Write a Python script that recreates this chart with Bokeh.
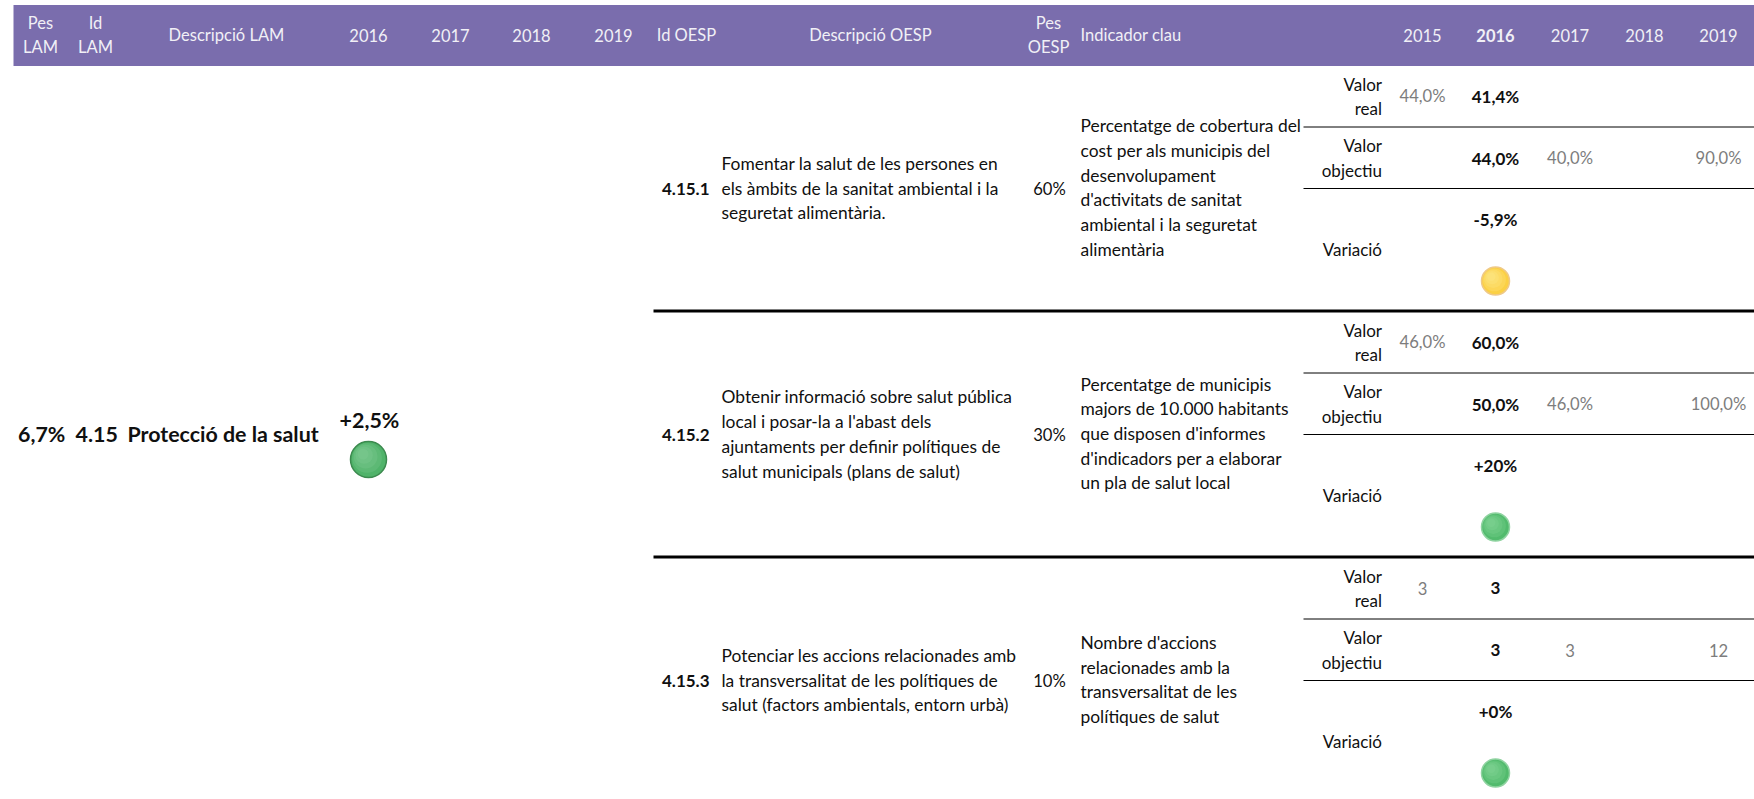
from bokeh.plotting import figure
from bokeh.models import Range1d
from bokeh.core.properties import value
from bokeh.embed import file_html
from bokeh.resources import INLINE

# ---------- data ----------
lam_headers = [["Pes", "LAM"], ["Id", "LAM"], ["Descripció LAM"], ["2016"], ["2017"], ["2018"], ["2019"],
               ["Id OESP"], ["Descripció OESP"], ["Pes", "OESP"]]
indicator_header = "Indicador clau"
indicator_years = ["2015", "2016", "2017", "2018", "2019"]
lam_weight = "6,7%"
lam_id = "4.15"
lam_name = "Protecció de la salut"
lam_2016 = "+2,5%"
lam_status = "green"
oesp_ids = ["4.15.1", "4.15.2", "4.15.3"]
oesp_desc = [
    ["Fomentar la salut de les persones en", "els àmbits de la sanitat ambiental i la", "seguretat alimentària."],
    ["Obtenir informació sobre salut pública", "local i posar-la a l'abast dels",
     "ajuntaments per definir polítiques de", "salut municipals (plans de salut)"],
    ["Potenciar les accions relacionades amb", "la transversalitat de les polítiques de",
     "salut (factors ambientals, entorn urbà)"],
]
oesp_weights = ["60%", "30%", "10%"]
indicators = [
    ["Percentatge de cobertura del", "cost per als municipis del", "desenvolupament",
     "d'activitats de sanitat", "ambiental i la seguretat", "alimentària"],
    ["Percentatge de municipis", "majors de 10.000 habitants", "que disposen d'informes",
     "d'indicadors per a elaborar", "un pla de salut local"],
    ["Nombre d'accions", "relacionades amb la", "transversalitat de les", "polítiques de salut"],
]
real_2015 = ["44,0%", "46,0%", "3"]
real_2016 = ["41,4%", "60,0%", "3"]
target_2016 = ["44,0%", "50,0%", "3"]
target_2017 = ["40,0%", "46,0%", "3"]
target_2019 = ["90,0%", "100,0%", "12"]
variation_2016 = ["-5,9%", "+20%", "+0%"]
variation_status = ["yellow", "green", "green"]

# ---------- layout and style ----------
W, H = 1754, 799
FONT = "Lato"
S = 17.0
S_LONG = 17.4
S_VAL = 16.6
S_HEAD = 16.5
S_BIG = 21.4
HEAD_BG = "#7a6dad"
HEAD_FG = "#f1f0f6"
GREY = "#7d7d7d"
INK = "#101010"
LH = 24.7
ROW = 246.0
lam_x = [40, 95, 226, 368, 450, 531, 613, 686, 870, 1048]
year_x = [1422, 1495, 1569.5, 1644, 1718]
status_big = {"green": ("#50b36a", "#8fd3a0", "#3c8a4f")}
status_small = {"green": ("#52bb6d", "#8fdaa0", "#8fd3a0"), "yellow": ("#fbd044", "#fdeb9c", "#efc988")}

p = figure(width=W, height=H, x_range=Range1d(0, W), y_range=Range1d(H, 0),
           output_backend="svg", toolbar_location=None, min_border=0,
           background_fill_color="white", border_fill_color="white", outline_line_color=None)
p.axis.visible = False
p.grid.visible = False
p.styles = {"position": "absolute", "left": "0px", "top": "0px"}


def put(x, y, s, color=INK, size=S, bold=False, align="center"):
    p.text([x], [y], text=[s], text_color=color, text_font=value(FONT), text_font_size=f"{size}px",
           text_font_style="bold" if bold else "normal", text_align=align, text_baseline="middle")


p.quad(left=[13], right=[W], top=[4.5], bottom=[65.5], fill_color=HEAD_BG, line_color=None)
for x, lines in zip(lam_x, lam_headers):
    if len(lines) == 1:
        put(x, 34.5, lines[0], HEAD_FG, size=S_HEAD)
    else:
        put(x, 22.5, lines[0], HEAD_FG, size=S_HEAD)
        put(x, 46, lines[1], HEAD_FG, size=S_HEAD)
put(1080, 34.5, indicator_header, HEAD_FG, size=S_HEAD, align="left")
for i, (x, y) in enumerate(zip(year_x, indicator_years)):
    put(x, 34.5, y, HEAD_FG, size=S_HEAD, bold=(i == 1))

put(17.5, 433.5, lam_weight, size=S_BIG, bold=True, align="left")
put(75, 433.5, lam_id, size=S_BIG, bold=True, align="left")
put(127, 433.5, lam_name, size=S_BIG, bold=True, align="left")
put(369, 419, lam_2016, size=S_BIG, bold=True)


def dot(x, y, r, table, status, lw):
    base, hi, edge = table[status]
    p.circle([x], [y], radius=r, fill_color=base, line_color=edge, line_width=lw)
    for shift, scale in ((0.08, 0.82), (0.16, 0.66), (0.24, 0.48), (0.3, 0.3)):
        p.circle([x - r * shift], [y - r * shift], radius=r * scale, fill_color=hi, fill_alpha=0.22, line_color=None)


dot(368, 459, 18, status_big, lam_status, 1.5)

for i in range(3):
    o = i * ROW
    ys = [95.5, 157.5, 219]
    put(661.5, 188 + o, oesp_ids[i], bold=True, align="left")
    n = len(oesp_desc[i])
    for k, s in enumerate(oesp_desc[i]):
        put(721, 187.5 + o + (k - (n - 1) / 2) * LH, s, size=S_LONG, align="left")
    put(1049, 188 + o, oesp_weights[i], size=S_VAL)
    n = len(indicators[i])
    for k, s in enumerate(indicators[i]):
        put(1080, 187 + o + (k - (n - 1) / 2) * LH, s, size=S_LONG, align="left")

    put(1381.5, 83.5 + o, "Valor", align="right")
    put(1381.5, 108 + o, "real", align="right")
    put(1381.5, 145 + o, "Valor", align="right")
    put(1381.5, 169.5 + o, "objectiu", align="right")
    put(1381.5, 249 + o, "Variació", align="right")

    put(year_x[0], ys[0] + o, real_2015[i], GREY, size=S_VAL)
    put(year_x[1], ys[0] + o, real_2016[i], bold=True)
    put(year_x[1], ys[1] + o, target_2016[i], bold=True)
    put(year_x[2], ys[1] + o, target_2017[i], GREY, size=S_VAL)
    put(year_x[4], ys[1] + o, target_2019[i], GREY, size=S_VAL)
    put(year_x[1], ys[2] + o, variation_2016[i], bold=True)
    dot(year_x[1], 280.5 + o, 14, status_small, variation_status[i], 1.5)

    p.line([1303, W], [126.5 + o, 126.5 + o], line_color="#000000", line_width=1)
    p.line([1303, W], [188 + o, 188 + o], line_color="#000000", line_width=1)
    if i < 2:
        p.line([653, W], [310.5 + o, 310.5 + o], line_color="#000000", line_width=3)

open("out.html", "w").write(file_html(p, INLINE))
